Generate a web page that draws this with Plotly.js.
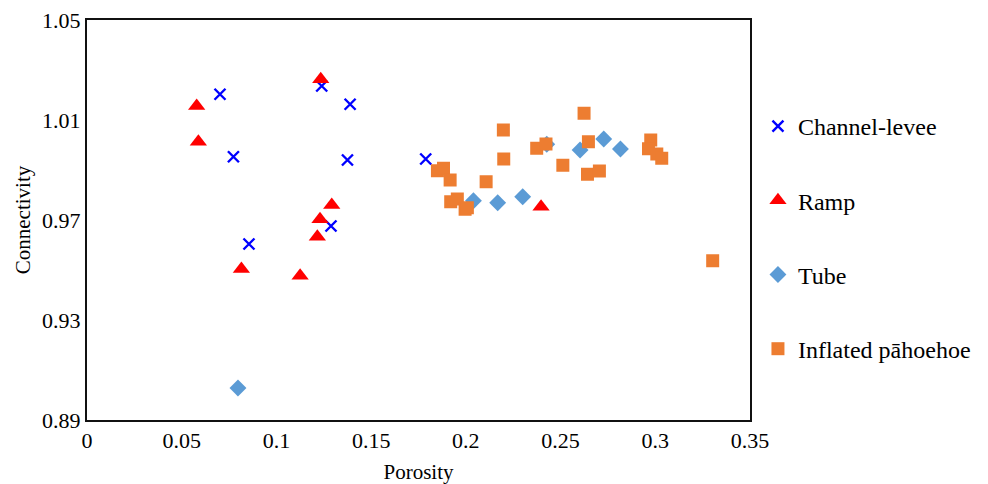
<!DOCTYPE html>
<html>
<head>
<meta charset="utf-8">
<script src="https://cdn.plot.ly/plotly-3.0.1.min.js"></script>
<style>html,body{margin:0;padding:0;background:#fff;}#chart{width:988px;height:484px;}</style>
</head>
<body>
<div id="chart"></div>
<script>
// Channel-levee
const channelX = [0.0702, 0.0773, 0.0855, 0.1239, 0.1389, 0.1375, 0.1288, 0.1788];
const channelY = [1.0203, 0.9953, 0.9604, 1.0236, 1.0163, 0.9940, 0.9676, 0.9944];
// Ramp
const rampX = [0.0579, 0.0588, 0.1234, 0.1292, 0.1230, 0.1216, 0.0815, 0.1125, 0.2397];
const rampY = [1.0156, 1.0013, 1.0263, 0.9760, 0.9703, 0.9633, 0.9504, 0.9477, 0.9753];
// Tube
const tubeX = [0.0797, 0.2040, 0.2168, 0.2300, 0.2427, 0.2603, 0.2728, 0.2816];
const tubeY = [0.9028, 0.9777, 0.9769, 0.9793, 1.0003, 0.9980, 1.0024, 0.9984];
// Inflated pāhoehoe
const inflX = [0.2624, 0.2198, 0.2200, 0.2374, 0.2423, 0.2647, 0.2512, 0.2642, 0.2705, 0.2976, 0.2964, 0.3008, 0.3034, 0.3303, 0.1850, 0.1882, 0.1917, 0.2107, 0.1920, 0.1955, 0.1996, 0.2008];
const inflY = [1.0127, 1.0060, 0.9944, 0.9987, 1.0004, 1.0013, 0.9919, 0.9883, 0.9896, 1.0020, 0.9985, 0.9964, 0.9947, 0.9537, 0.9897, 0.9907, 0.9860, 0.9853, 0.9773, 0.9784, 0.9743, 0.9749];

const names = ["Channel-levee", "Ramp", "Tube", "Inflated pāhoehoe"];
const xTicks = [0, 0.05, 0.1, 0.15, 0.2, 0.25, 0.3, 0.35];
const xTickLabels = ["0", "0.05", "0.1", "0.15", "0.2", "0.25", "0.3", "0.35"];
const yTicks = [0.89, 0.93, 0.97, 1.01, 1.05];
const yTickLabels = ["0.89", "0.93", "0.97", "1.01", "1.05"];

const traces = [
  {x: channelX, y: channelY, name: names[0], type: 'scatter', mode: 'markers', legendgroup: 'a',
   marker: {symbol: 'x-thin-open', size: 11, color: '#0000FF', line: {width: 2.4, color: '#0000FF'}}},
  {x: rampX, y: rampY, name: names[1], type: 'scatter', mode: 'markers', legendgroup: 'b',
   marker: {symbol: 'triangle-up', size: 15, color: '#FF0000'}},
  {x: tubeX, y: tubeY, name: names[2], type: 'scatter', mode: 'markers', legendgroup: 'c',
   marker: {symbol: 'diamond', size: 13, color: '#5B9BD5'}},
  {x: inflX, y: inflY, name: names[3], type: 'scatter', mode: 'markers', legendgroup: 'd',
   marker: {symbol: 'square', size: 13, color: '#ED7D31'}}
];

const fam = 'Liberation Serif';
const layout = {
  width: 988, height: 484,
  margin: {l: 87, r: 238, t: 20, b: 64},
  paper_bgcolor: '#fff', plot_bgcolor: '#fff',
  font: {family: fam, size: 22, color: '#000'},
  showlegend: true,
  legend: {
    x: 1.012, xanchor: 'left', y: 0.79, yanchor: 'top',
    font: {family: fam, size: 24, color: '#000'},
    tracegroupgap: 40, itemsizing: 'trace', bgcolor: 'rgba(0,0,0,0)'
  },
  xaxis: {
    range: [0, 0.35], tickvals: xTicks, ticktext: xTickLabels,
    showgrid: false, zeroline: false, showline: true, mirror: true,
    linecolor: '#111', linewidth: 2, ticks: '',
    tickfont: {family: fam, size: 22, color: '#000'},
    title: {text: 'Porosity', font: {family: fam, size: 21, color: '#000'}, standoff: 14}
  },
  yaxis: {
    range: [0.89, 1.05], tickvals: yTicks, ticktext: yTickLabels,
    showgrid: false, zeroline: false, showline: true, mirror: true,
    linecolor: '#111', linewidth: 2, ticks: '',
    tickfont: {family: fam, size: 22, color: '#000'},
    title: {text: 'Connectivity', font: {family: fam, size: 21, color: '#000'}, standoff: 6}
  }
};

Plotly.newPlot('chart', traces, layout, {displayModeBar: false, staticPlot: true});
</script>
</body>
</html>
